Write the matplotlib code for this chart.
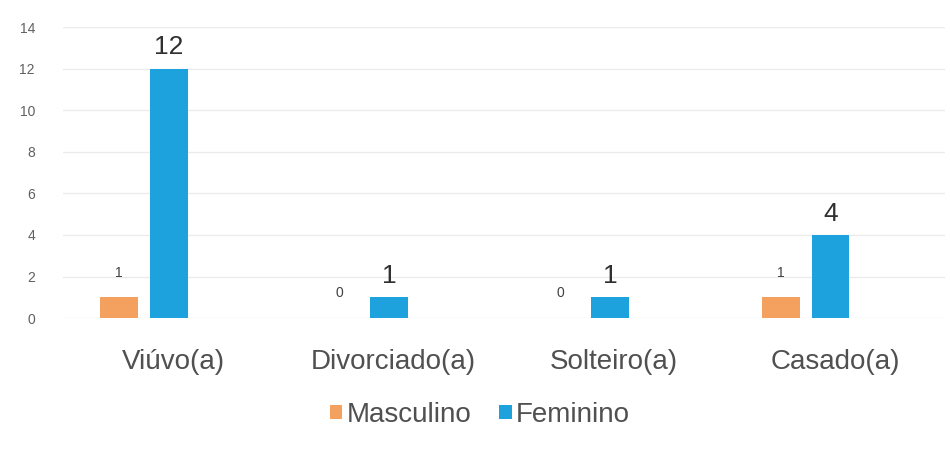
import matplotlib
matplotlib.use("Agg")
import matplotlib.pyplot as plt
import numpy as np

plt.rcParams["font.family"] = ["Liberation Sans", "DejaVu Sans"]

categories = ["Viúvo(a)", "Divorciado(a)", "Solteiro(a)", "Casado(a)"]
masculino = [1, 0, 0, 1]
feminino = [12, 1, 1, 4]
yticks = [0, 2, 4, 6, 8, 10, 12, 14]

c_masc = "#F4A160"
c_fem = "#1DA2DE"

fig = plt.figure(figsize=(9.5, 4.5), dpi=100)
ax = fig.add_axes([0.066, 0.293, 0.929, 0.647])

x = np.arange(len(categories))
w = 0.172
bm = ax.bar(x - 0.245, masculino, width=w, color=c_masc, label="Masculino")
bf = ax.bar(x - 0.02, feminino, width=w, color=c_fem, label="Feminino")

for rect, v in zip(bm, masculino):
    ax.text(rect.get_x() + rect.get_width() / 2, v + 0.85, str(v),
            ha="center", va="bottom", fontsize=10, color="#404040")
for rect, v in zip(bf, feminino):
    ax.text(rect.get_x() + rect.get_width() / 2, v + 0.45, str(v),
            ha="center", va="bottom", fontsize=19, color="#303030")

ax.set_xlim(-0.5, 3.5)
ax.set_ylim(0, 14)
ax.set_yticks(yticks)
ax.set_xticks(x)
ax.set_xticklabels(categories, fontsize=20, color="#505050")
ax.tick_params(axis="y", labelsize=10, colors="#606060", length=0, pad=20)
ax.tick_params(axis="x", length=0, pad=22)
ax.grid(axis="y", color="#EBEBEB", linewidth=1)
ax.set_axisbelow(True)
for s in ax.spines.values():
    s.set_visible(False)

leg = fig.legend(loc="center", bbox_to_anchor=(0.505, 0.078), ncol=2,
                 frameon=False, fontsize=20, handlelength=0.45,
                 handleheight=0.45, handletextpad=0.15, columnspacing=1.0)
for t in leg.get_texts():
    t.set_color("#505050")

fig.savefig("out.png", dpi=100)
